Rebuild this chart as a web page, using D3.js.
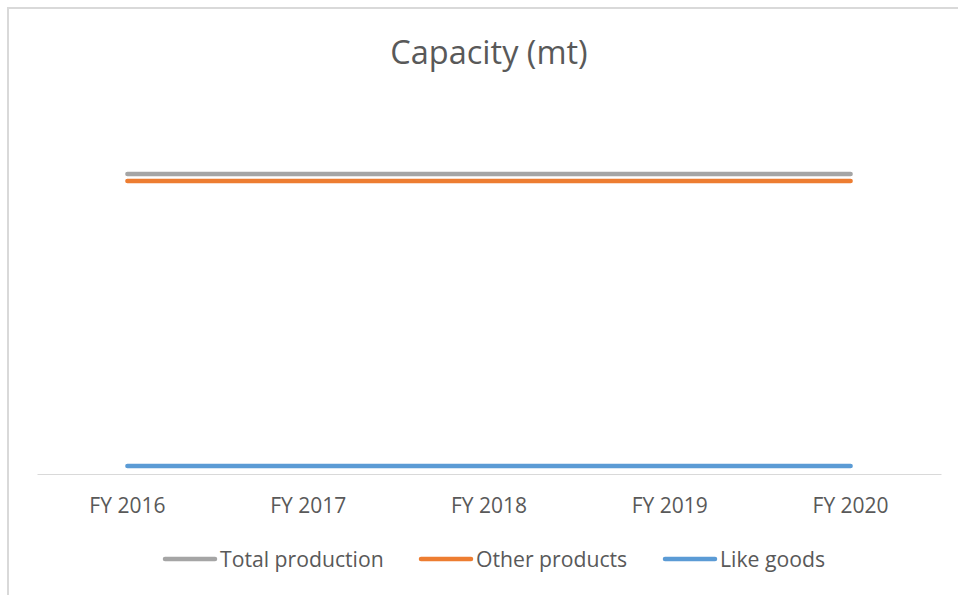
<!DOCTYPE html>
<html>
<head>
<meta charset="utf-8">
<script src="https://cdn.jsdelivr.net/npm/d3@7"></script>
<style>
  html, body { margin: 0; padding: 0; background: #ffffff; }
  svg { display: block; }
  text { font-family: "Open Sans", "Liberation Sans", sans-serif; fill: #595959; }
</style>
</head>
<body>
<svg id="chart" width="958" height="595"></svg>
<script>
// Fiscal years along the x axis
const categories = ["FY 2016", "FY 2017", "FY 2018", "FY 2019", "FY 2020"];

// Capacity series (mt)
const totalProduction = [1000, 1000, 1000, 1000, 1000];
const otherProducts   = [977, 977, 977, 977, 977];
const likeGoods       = [27, 27, 27, 27, 27];

const seriesNames  = ["Total production", "Other products", "Like goods"];
const seriesColors = ["#A5A5A5", "#ED7D31", "#5B9BD5"];
const seriesValues = [totalProduction, otherProducts, likeGoods];

const svg = d3.select("#chart");
const W = 958, H = 595;

// Chart frame
svg.append("rect")
  .attr("x", 8).attr("y", 8)
  .attr("width", W + 10).attr("height", H + 10)
  .attr("fill", "#ffffff")
  .attr("stroke", "#D9D9D9")
  .attr("stroke-width", 2);

// Title
svg.append("text")
  .attr("x", 489).attr("y", 64)
  .attr("text-anchor", "middle")
  .style("font-size", "32.5px")
  .text("Capacity (mt)");

// Plot area
const plot = { left: 37, right: 941, top: 99, bottom: 474 };

const x = d3.scaleBand()
  .domain(categories)
  .range([plot.left, plot.right]);

const y = d3.scaleLinear()
  .domain([0, 1250])
  .range([plot.bottom, plot.top]);

// Category axis
const xAxis = d3.axisBottom(x).tickSize(0).tickPadding(0);
const gx = svg.append("g")
  .attr("transform", `translate(0,${plot.bottom})`)
  .call(xAxis);
gx.select(".domain").attr("stroke", "#D9D9D9").attr("stroke-width", 1);
gx.selectAll("text")
  .attr("y", 39)
  .attr("dy", null)
  .style("font-size", "21px")
  .style("font-family", "\"Open Sans\", \"Liberation Sans\", sans-serif")
  .attr("fill", "#595959");

// Series lines
const line = d3.line()
  .x((d, i) => x(categories[i]) + x.bandwidth() / 2)
  .y(d => y(d));

seriesValues.forEach((vals, k) => {
  svg.append("path")
    .datum(vals)
    .attr("d", line)
    .attr("fill", "none")
    .attr("stroke", seriesColors[k])
    .attr("stroke-width", 4.5)
    .attr("stroke-linecap", "round");
});

// Legend
const legendY = 559;
const legendX = [163, 419, 663];
const legend = svg.append("g");
seriesNames.forEach((name, k) => {
  const g = legend.append("g").attr("transform", `translate(${legendX[k]},${legendY})`);
  g.append("line")
    .attr("x1", 2).attr("x2", 52)
    .attr("y1", 0).attr("y2", 0)
    .attr("stroke", seriesColors[k])
    .attr("stroke-width", 4.5)
    .attr("stroke-linecap", "round");
  g.append("text")
    .attr("x", 57).attr("y", 8)
    .style("font-size", "21.2px")
    .text(name);
});
</script>
</body>
</html>
